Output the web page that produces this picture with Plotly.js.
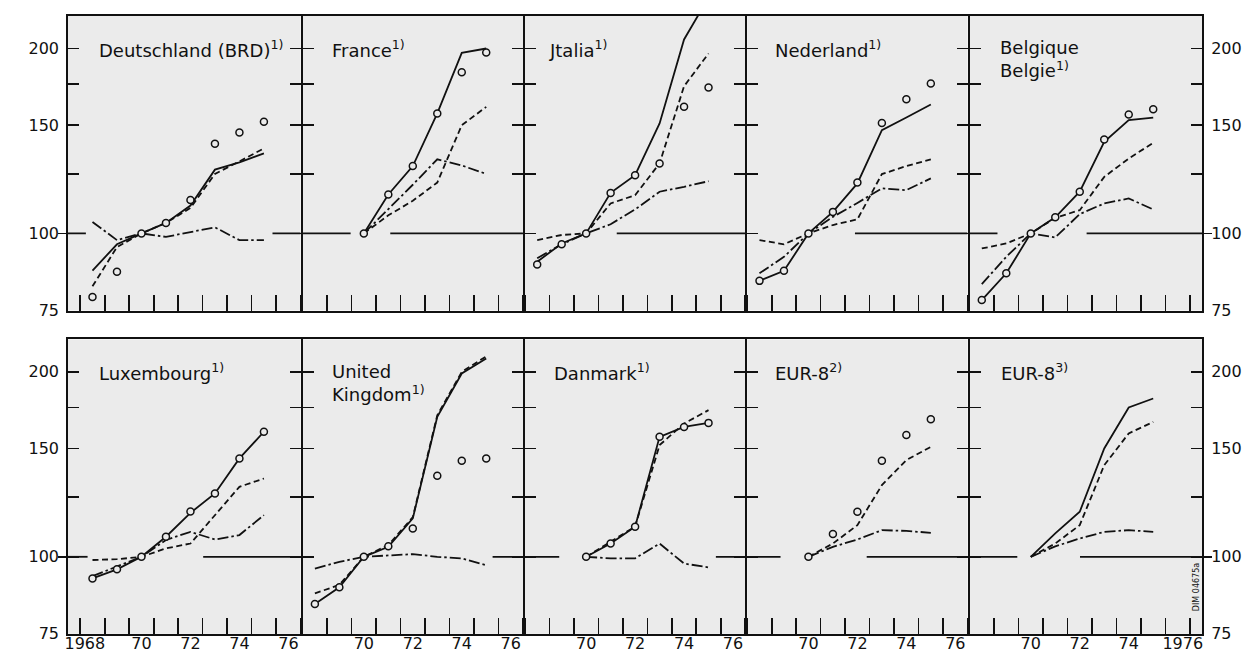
<!DOCTYPE html>
<html>
<head>
<meta charset="utf-8">
<script src="https://cdn.plot.ly/plotly-3.0.1.min.js"></script>
<style>
  html, body { margin: 0; padding: 0; background: #ffffff; }
  #chart { width: 1259px; height: 660px; }
</style>
</head>
<body>
<div id="chart"></div>
<script>
// ---------------- DATA (index, 1970 = 100, log scale) ----------------
const years = [1968, 1969, 1970, 1971, 1972, 1973, 1974, 1975];

const panelTitles = [
  'Deutschland (BRD)<sup>1)</sup>', 'France<sup>1)</sup>', 'Jtalia<sup>1)</sup>',
  'Nederland<sup>1)</sup>', 'Belgique<br>Belgie<sup>1)</sup>',
  'Luxembourg<sup>1)</sup>', 'United<br>Kingdom<sup>1)</sup>', 'Danmark<sup>1)</sup>',
  'EUR-8<sup>2)</sup>', 'EUR-8<sup>3)</sup>'
];

// Deutschland (BRD)
const deSolid   = [87, 96, 100, 104, 111, 127, 130.5, 135];
const deDashed  = [82, 95, 100, 104, 110, 125, 131, 137.5];
const deDashDot = [104.4, 97.5, 100, 98.7, 100.5, 102.3, 97.5, 97.5];
const deCircles = [78.8, 86.6, 100, 104, 113.3, 140, 146, 152];
// France
const frSolid   = [null, null, 100, 115.7, 128.7, 156.8, 196.7, 200];
const frDashed  = [null, null, 100, 107, 113, 121, 150, 160.7];
const frDashDot = [null, null, 100, 109.5, 120, 132, 129, 125];
const frCircles = [null, null, 100, 115.7, 128.7, 156.8, 183, 197];
// Italia
const itSolid   = [89.9, 96.3, 100, 116.4, 124.4, 151, 206.9, 242];
const itDashed  = [97.5, 99.4, 100, 111.9, 115.4, 130, 173.6, 196.3];
const itDashDot = [91.1, 96, 100, 103.5, 109.4, 116.9, 119.1, 121.6];
const itCircles = [89, 96, 100, 116.4, 124.4, 130, 160.7, 172.8];
// Nederland
const nlSolid   = [83.7, 86.9, 100, 108.4, 120.6, 147.3, 154.4, 162.1];
const nlDashed  = [97.5, 96, 100, 103.2, 105.4, 124.9, 128.7, 132];
const nlDashDot = [86.1, 91.6, 100, 106.4, 112.1, 118.4, 117.6, 122.9];
const nlCircles = [83.7, 86.9, 100, 108.4, 121, 151.3, 165.4, 175.4];
// Belgique / Belgie
const beSolid   = [77.9, 86.1, 100, 106.2, 116.9, 140.9, 152.9, 154.4];
const beDashed  = [94.5, 96.3, 100, 106, 109.1, 123.6, 132.4, 140.4];
const beDashDot = [82.7, 91.6, 100, 98.5, 107.5, 111.9, 114, 109.4];
const beCircles = [77.9, 86.1, 100, 106.2, 116.9, 142.2, 156.2, 159.2];
// Luxembourg
const luSolid   = [92.2, 95.4, 100, 107.8, 117.9, 126.8, 144.6, 159.8];
const luDashed  = [98.8, 99.1, 100, 103.2, 105.1, 116.9, 130, 134.1];
const luDashDot = [93, 96.3, 100, 106.5, 109.8, 106.7, 108.5, 116.9];
const luCircles = [92.2, 95.4, 100, 107.8, 118.5, 126.8, 144.6, 159.8];
// United Kingdom
const ukSolid   = [83.8, 89.2, 100, 103.8, 115.5, 169, 198.8, 210.3];
const ukDashed  = [87.2, 90, 100, 104.5, 116, 170, 200, 212];
const ukDashDot = [95.7, 98.1, 100, 100.6, 101, 100, 99.4, 96.9];
const ukCircles = [83.8, 89.2, 100, 104, 111.2, 135.5, 143.3, 144.6];
// Danmark
const dkSolid   = [null, null, 100, 105.1, 111.9, 156.8, 162.7, 165.2];
const dkDashed  = [null, null, 100, 106, 112, 152, 164.8, 173.3];
const dkDashDot = [null, null, 100, 99.4, 99.4, 105.1, 97.5, 96.1];
const dkCircles = [null, null, 100, 105.1, 111.9, 156.8, 162.7, 165.2];
// EUR-8 (2)
const eu2Solid   = [null, null, null, null, null, null, null, null];
const eu2Dashed  = [null, null, 100, 105.1, 112.6, 130.8, 143.7, 151];
const eu2DashDot = [null, null, 100, 103.8, 106.7, 110.5, 110.2, 109.4];
const eu2Circles = [null, null, 100, 108.9, 118.4, 143.3, 157.8, 167.4];
// EUR-8 (3)
const eu3Solid   = [null, null, 100, 109.2, 118.4, 150.1, 175, 181];
const eu3Dashed  = [null, null, 100, 105.1, 112.6, 141, 158.8, 165.8];
const eu3DashDot = [null, null, 100, 104, 107.1, 109.8, 110.5, 109.8];
const eu3Circles = [null, null, null, null, null, null, null, null];

// Where the 100 base line is interrupted in each panel (years)
const baseLineGaps = [
  [1967.73, 1975.35], [1969.46, 1971.08], [1967.5, 1971.25], [1967.5, 1971.9], [1968.64, 1972.28],
  [1967.8, 1972.52],  [1967.5, 1975.26],  [1968.9, 1975.3],  [1968.86, 1972.38], [1969.45, 1972.01]
];

// Axis ticks and labels
const yTickVals = [75, 100, 125, 150, 175, 200];
const yLabelVals = [75, 100, 150, 200];
const yLabelText = ['75', '100', '150', '200'];
const yearBoundaries = [1967.5, 1968.5, 1969.5, 1970.5, 1971.5, 1972.5, 1973.5, 1974.5, 1975.5, 1976.5];
const xLabelVals = [[1968, 1970, 1972, 1974, 1976], [1970, 1972, 1974, 1976], [1970, 1972, 1974, 1976], [1970, 1972, 1974, 1976], [1970, 1972, 1974, 1976]];
const xLabelText = [['1968\u00a0\u00a0\u00a0', '70', '72', '74', '76'], ['70', '72', '74', '76'], ['70', '72', '74', '76'], ['70', '72', '74', '76'], ['70', '72', '74', '\u00a0\u00a01976']];
const baseValue = 100;

// --------------- table built from the arrays ---------------
const panels = [
  [deSolid, deDashed, deDashDot, deCircles],
  [frSolid, frDashed, frDashDot, frCircles],
  [itSolid, itDashed, itDashDot, itCircles],
  [nlSolid, nlDashed, nlDashDot, nlCircles],
  [beSolid, beDashed, beDashDot, beCircles],
  [luSolid, luDashed, luDashDot, luCircles],
  [ukSolid, ukDashed, ukDashDot, ukCircles],
  [dkSolid, dkDashed, dkDashDot, dkCircles],
  [eu2Solid, eu2Dashed, eu2DashDot, eu2Circles],
  [eu3Solid, eu3Dashed, eu3DashDot, eu3Circles]
];

// --------------- layout geometry ---------------
const W = 1259, H = 660;
const LW = 2; // frame line width; domains are inset by half of it so shared borders coincide
const colEdges = [67, 301.65, 523.95, 746.25, 968.55, 1203.2];
const rowEdges = [[15, 311.5], [338.4, 634.9]];
const xRanges = [[1967.0, 1976.5], [1967.5, 1976.5], [1967.5, 1976.5], [1967.5, 1976.5], [1967.5, 1977.0]];
const yRange = [Math.log10(74.9), Math.log10(225.9)];
const titleOffsetPx = [30, 28, 23, 27, 29, 30, 28, 28, 27, 30];

const INK = '#111111';
const BG = '#ebebeb';
const tickFont = { family: 'DejaVu Sans, sans-serif', size: 16, color: INK };
const titleFont = { family: 'DejaVu Sans, sans-serif', size: 18, color: INK };

const traces = [];
const layout = {
  width: W, height: H,
  margin: { l: 0, r: 0, t: 0, b: 0, pad: 0 },
  paper_bgcolor: '#ffffff',
  plot_bgcolor: BG,
  showlegend: false,
  annotations: []
};

function ax(n) { return n === 1 ? '' : String(n); }

panels.forEach((series, i) => {
  const n = i + 1;
  const row = i < 5 ? 0 : 1;
  const col = i % 5;
  const xr = xRanges[col];
  const xa = 'x' + ax(n), ya = 'y' + ax(n);
  const left = colEdges[col] + LW / 2, right = colEdges[col + 1] - LW / 2;
  const top = rowEdges[row][0] + LW / 2, bottom = rowEdges[row][1] - LW / 2;

  layout['xaxis' + ax(n)] = {
    domain: [left / W, right / W],
    range: xr, anchor: ya, type: 'linear',
    showline: true, linecolor: INK, linewidth: LW, mirror: true,
    showgrid: false, zeroline: false,
    ticks: '', tickmode: 'array', tickvals: xLabelVals[col], ticktext: xLabelText[col],
    showticklabels: row === 1, tickfont: tickFont, ticklabelstandoff: -6,
    minor: { tickmode: 'array', tickvals: yearBoundaries, ticks: 'inside', ticklen: 16, tickwidth: 1.6, tickcolor: INK, showgrid: false },
    fixedrange: true
  };
  layout['yaxis' + ax(n)] = {
    domain: [1 - bottom / H, 1 - top / H],
    type: 'log', range: yRange, anchor: xa,
    showline: true, linecolor: INK, linewidth: LW, mirror: 'ticks',
    showgrid: false, zeroline: false,
    ticks: 'inside', ticklen: 11, tickwidth: 1.6, tickcolor: INK,
    tickmode: 'array', tickvals: yTickVals,
    showticklabels: false,
    fixedrange: true
  };

  // 100 base line, interrupted
  const gap = baseLineGaps[i];
  traces.push({
    type: 'scatter', mode: 'lines', xaxis: xa, yaxis: ya,
    x: [xr[0], gap[0], null, gap[1], xr[1]],
    y: [baseValue, baseValue, null, baseValue, baseValue],
    line: { color: INK, width: 1.8 }, hoverinfo: 'skip', connectgaps: false
  });

  const [solid, dashed, dashdot, circles] = series;
  traces.push({ type: 'scatter', mode: 'lines', xaxis: xa, yaxis: ya, x: years, y: solid,
    line: { color: INK, width: 1.8 }, connectgaps: false });
  traces.push({ type: 'scatter', mode: 'lines', xaxis: xa, yaxis: ya, x: years, y: dashed,
    line: { color: INK, width: 1.8, dash: '6px,3.5px' }, connectgaps: false });
  traces.push({ type: 'scatter', mode: 'lines', xaxis: xa, yaxis: ya, x: years, y: dashdot,
    line: { color: INK, width: 1.8, dash: '11px,3px,2.5px,3px' }, connectgaps: false });
  traces.push({ type: 'scatter', mode: 'markers', xaxis: xa, yaxis: ya, x: years, y: circles,
    marker: { symbol: 'circle', size: 7, color: BG, line: { color: INK, width: 1.5 } } });

  const pw = right - left;
  const twoLine = panelTitles[i].indexOf('<br>') >= 0;
  layout.annotations.push({
    xref: xa + ' domain', yref: ya + ' domain',
    x: (titleOffsetPx[i] - LW / 2) / pw, y: twoLine ? 0.853 : 0.8887,
    xanchor: 'left', yanchor: 'middle', align: 'left',
    text: panelTitles[i], showarrow: false, font: titleFont
  });
});

// Overlay axes: value labels on the outer sides, and the 100 tick reaching outside the frame
const extraAxes = [
  { id: 11, over: 1, anchor: 'x', side: 'left', labels: false },
  { id: 12, over: 6, anchor: 'x6', side: 'left', labels: false },
  { id: 13, over: 5, anchor: 'x5', side: 'right', labels: true },
  { id: 14, over: 5, anchor: 'x5', side: 'right', labels: false },
  { id: 15, over: 10, anchor: 'x10', side: 'right', labels: true },
  { id: 16, over: 10, anchor: 'x10', side: 'right', labels: false },
  { id: 17, over: 1, anchor: 'x', side: 'left', labels: true },
  { id: 18, over: 6, anchor: 'x6', side: 'left', labels: true }
];
extraAxes.forEach(e => {
  const base = layout['yaxis' + ax(e.over)];
  layout['yaxis' + e.id] = {
    overlaying: 'y' + ax(e.over), anchor: e.anchor, side: e.side,
    type: 'log', range: yRange, domain: base.domain,
    showline: false, showgrid: false, zeroline: false, fixedrange: true,
    tickmode: 'array',
    tickvals: e.labels ? yLabelVals : [baseValue],
    ticktext: e.labels ? yLabelText : ['100'],
    ticks: e.labels ? '' : 'outside', ticklen: 9, tickwidth: 1.8, tickcolor: INK,
    showticklabels: e.labels, tickfont: tickFont, ticklabelstandoff: 8
  };
  traces.push({ type: 'scatter', mode: 'lines', xaxis: e.anchor, yaxis: 'y' + e.id,
    x: [null], y: [null], hoverinfo: 'skip' });
});

// figure id label in the last panel
layout.annotations.push({
  xref: 'x10 domain', yref: 'y10 domain', x: 0.975, y: 0.16,
  xanchor: 'center', yanchor: 'middle', textangle: -90,
  text: 'DIM 04675a', showarrow: false,
  font: { family: 'DejaVu Sans, sans-serif', size: 8, color: INK }
});

Plotly.newPlot('chart', traces, layout, { staticPlot: true, displayModeBar: false });
</script>
</body>
</html>
